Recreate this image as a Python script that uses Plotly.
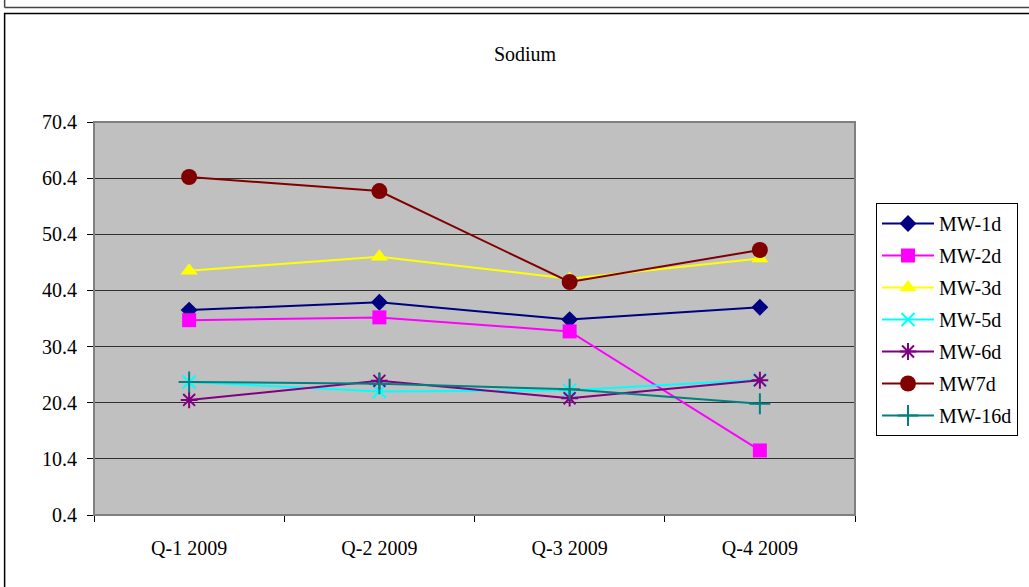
import plotly.graph_objects as go

categories = ["Q-1 2009", "Q-2 2009", "Q-3 2009", "Q-4 2009"]
series_names = ["MW-1d", "MW-2d", "MW-3d", "MW-5d", "MW-6d", "MW7d", "MW-16d"]
mw1d = [36.9, 38.3, 35.2, 37.4]
mw2d = [35.1, 35.6, 33.1, 11.9]
mw3d = [43.9, 46.4, 42.5, 46.1]
mw5d = [24.1, 22.4, 22.6, 24.5]
mw6d = [20.9, 24.3, 21.2, 24.4]
mw7d = [60.6, 58.1, 41.9, 47.6]
mw16d = [24.1, 23.8, 22.8, 20.2]
y_ticks = [0.4, 10.4, 20.4, 30.4, 40.4, 50.4, 60.4, 70.4]

values = [mw1d, mw2d, mw3d, mw5d, mw6d, mw7d, mw16d]
colors = ["#000080", "#FF00FF", "#FFFF00", "#00FFFF", "#800080", "#800000", "#008080"]
symbols = ["diamond", "square", "triangle-up", "x-thin-open", "asterisk-open", "circle", "cross-thin-open"]
sizes = [13, 14, 15, 13, 14, 16, 15]

W, H = 1029, 587
L, R, T, B = 94, 173, 122, 72
pw, ph = W - L - R, H - T - B

def px_x(x):
    return (x - L) / pw

def px_y(y):
    return (H - B - y) / ph

fig = go.Figure()
for name, vals, c, s, sz in zip(series_names, values, colors, symbols, sizes):
    open_sym = s.endswith("open")
    fig.add_trace(go.Scatter(
        x=categories, y=vals, name=name, legendgroup=name,
        mode="lines+markers",
        line=dict(color=c, width=2),
        marker=dict(symbol=s, size=sz, color=c,
                    line=dict(color=c, width=2 if open_sym else 0)),
    ))

shapes = [
    # outer chart frame
    dict(type="rect", xref="paper", yref="paper",
         x0=px_x(4.5), x1=px_x(1035), y0=px_y(600), y1=px_y(13.5),
         line=dict(color="black", width=1.5), layer="below"),
    # previous frame bottom edge
    dict(type="line", xref="paper", yref="paper",
         x0=px_x(4.5), x1=px_x(1035), y0=px_y(7.5), y1=px_y(7.5),
         line=dict(color="#444", width=1.5)),
    dict(type="line", xref="paper", yref="paper",
         x0=px_x(4.5), x1=px_x(4.5), y0=px_y(-5), y1=px_y(7.5),
         line=dict(color="#444", width=1.5)),
    # plot area border
    dict(type="rect", xref="paper", yref="paper", x0=0, x1=1, y0=0, y1=1,
         line=dict(color="#808080", width=2)),
]

fig.update_layout(
    width=W, height=H,
    margin=dict(l=L, r=R, t=T, b=B),
    paper_bgcolor="white",
    plot_bgcolor="#C0C0C0",
    font=dict(family="Liberation Serif, Times New Roman, serif", size=20, color="black"),
    title=dict(text="Sodium", x=525 / W, xref="container", xanchor="center",
               y=1 - 54 / H, yref="container", yanchor="middle",
               font=dict(size=20)),
    showlegend=True,
    legend=dict(
        x=px_x(876), xanchor="left", y=px_y(203), yanchor="top",
        bordercolor="black", borderwidth=1, bgcolor="white",
        tracegroupgap=3, traceorder="grouped",
        itemwidth=52,
        font=dict(size=20),
    ),
    shapes=shapes,
    xaxis=dict(
        type="category", showgrid=False, zeroline=False,
        showline=True, linecolor="black", linewidth=1,
        ticks="outside", tickson="boundaries", ticklen=6, tickcolor="black",
        ticklabelstandoff=15, range=[-0.5, 3.5],
        tickfont=dict(size=20),
    ),
    yaxis=dict(
        range=[0.4, 70.4], tickvals=y_ticks, ticktext=[f"{v:.1f}" for v in y_ticks],
        showgrid=True, gridcolor="#303030", gridwidth=1, zeroline=False,
        showline=True, linecolor="black", linewidth=1,
        ticks="outside", ticklen=6, tickcolor="black",
        ticklabelstandoff=6, tickfont=dict(size=20),
    ),
)

fig.write_html("out.html", config={"displayModeBar": False},
               post_script="document.body.style.margin='0px';")
